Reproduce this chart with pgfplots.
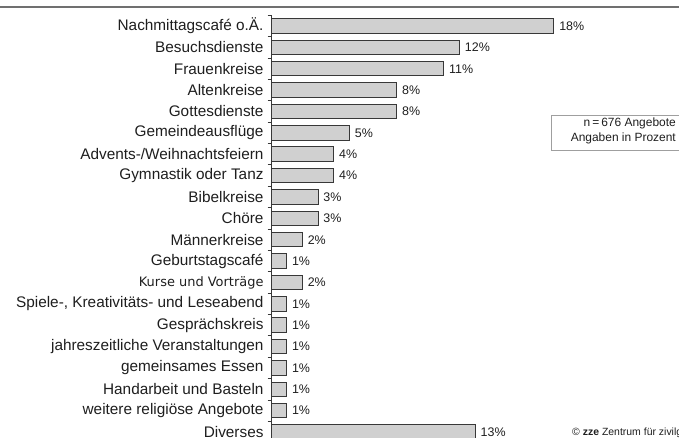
\documentclass[border=0pt]{standalone}
\usepackage{pgfplots}
\pgfplotsset{compat=1.18}
\usepackage{fontspec}
\setmainfont{Liberation Sans}
\newfontfamily\dejavu{DejaVu Sans}
\definecolor{barfill}{HTML}{D0D0D0}
\definecolor{bardraw}{HTML}{383838}
\definecolor{txt}{HTML}{1E1E1E}
\definecolor{topline}{HTML}{707070}
\begin{document}
\begin{tikzpicture}
\useasboundingbox (0bp,0bp) rectangle (679bp,438bp);
\draw[topline, line width=1.8bp] (0bp,430.7bp) -- (679bp,430.7bp);
\begin{axis}[
  at={(271bp,422.7bp)}, anchor=north west,
  scale only axis,
  width=314.4bp, height=448.8bp,
  xmin=0, xmax=20,
  ymin=-0.5, ymax=20.5,
  y dir=reverse,
  axis x line=none,
  axis y line*=left,
  y axis line style={draw=bardraw, line width=0.9bp},
  xbar, bar width=14.5bp,
  ytick={0,...,19},
  yticklabels={Nachmittagscafé o.Ä., Besuchsdienste, Frauenkreise, Altenkreise, Gottesdienste, Gemeindeausflüge, Advents-/Weihnachtsfeiern, Gymnastik oder Tanz, Bibelkreise, Chöre, Männerkreise, Geburtstagscafé, {\dejavu\fontsize{13}{15}\selectfont Kurse und Vorträge}, {Spiele-, Kreativitäts- und Leseabend}, Gesprächskreis, jahreszeitliche Veranstaltungen, gemeinsames Essen, Handarbeit und Basteln, weitere religiöse Angebote, Diverses},
  major tick length=0pt,
  minor ytick={-0.5,0.5,...,19.5},
  minor tick length=3.5bp,
  tick align=outside,
  minor tick style={draw=bardraw, line width=0.9bp},
  yticklabel style={font=\fontsize{15.4}{18}\selectfont, text=txt, xshift=-4bp},
  /pgf/number format/assume math mode=true,
  point meta=x,
  nodes near coords={\pgfmathprintnumber{\pgfplotspointmeta}\%},
  every node near coord/.append style={font=\fontsize{12.5}{14}\selectfont, text=txt, anchor=west, xshift=1.5bp},
  clip=false,
]
\addplot[fill=barfill, draw=bardraw, line width=1bp] coordinates {
(18,0) (12,1) (11,2) (8,3) (8,4) (5,5) (4,6) (4,7) (3,8) (3,9)
(2,10) (1,11) (2,12) (1,13) (1,14) (1,15) (1,16) (1,17) (1,18) (13,19)
};
\end{axis}
\draw[gray!75, line width=0.8bp] (551bp,323bp) rectangle (700bp,288bp);
\node[anchor=north east, align=right, font=\fontsize{12}{15}\selectfont, text=txt, inner sep=0pt] at (676bp,320bp) {n\,=\,676 Angebote\\Angaben in Prozent};
\node[anchor=base west, font=\fontsize{10.5}{12}\selectfont, text=txt, inner sep=0pt] at (572bp,2.5bp) {© \textbf{zze} Zentrum für zivilgesellschaftliche Entwicklung};
\end{tikzpicture}
\end{document}
